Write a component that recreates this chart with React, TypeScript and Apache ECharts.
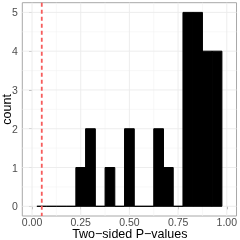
import React, { useEffect, useRef } from "react";
import * as echarts from "echarts";

// Histogram bins (centres) and counts
const binCenters = [0.05, 0.1, 0.15, 0.2, 0.25, 0.3, 0.35, 0.4, 0.45, 0.5, 0.55, 0.6, 0.65, 0.7, 0.75, 0.8, 0.85, 0.9, 0.95];
const counts = [0, 0, 0, 0, 1, 2, 0, 1, 0, 2, 0, 0, 2, 1, 0, 5, 5, 4, 4];
const binWidth = 0.05;
const threshold = 0.05;

const xTicks = [0, 0.25, 0.5, 0.75, 1];
const xMinor = [0.125, 0.375, 0.625, 0.875];
const yTicks = [0, 1, 2, 3, 4, 5];
const yMinor = [0.5, 1.5, 2.5, 3.5, 4.5];

const xTitle = "Two\u2212sided P\u2212values";
const yTitle = "count";

const FONT = "Liberation Sans";

export default function App() {
  const ref = useRef<HTMLDivElement>(null);
  useEffect(() => {
    if (!ref.current) return;
    const chart = echarts.init(ref.current, undefined, { renderer: "svg" });

    const gridData: any[] = [];
    xMinor.forEach((v) => gridData.push([0, v, 0]));
    yMinor.forEach((v) => gridData.push([1, v, 0]));
    xTicks.forEach((v) => gridData.push([0, v, 1]));
    yTicks.forEach((v) => gridData.push([1, v, 1]));

    const left = 22.3, right = 2.7, top = 2.7, bottom = 24;
    const panelCx = left + (240 - left - right) / 2;
    const panelCy = top + (240 - top - bottom) / 2;

    chart.setOption({
      animation: false,
      grid: {
        left, right, top, bottom,
        show: true,
        borderColor: "#a8a8a8",
        borderWidth: 1,
        backgroundColor: "#fff",
      },
      xAxis: {
        type: "value",
        min: -0.05,
        max: 1.05,
        axisLine: { show: false },
        splitLine: { show: false },
        axisTick: { show: true, length: 3, lineStyle: { color: "#a8a8a8", width: 1 }, customValues: xTicks },
        axisLabel: {
          customValues: xTicks,
          formatter: (v: number) => v.toFixed(2),
          color: "#4d4d4d",
          fontSize: 10.5,
          lineHeight: 10,
          fontFamily: FONT,
          margin: 1,
        },
      },
      yAxis: {
        type: "value",
        min: -0.25,
        max: 5.25,
        axisLine: { show: false },
        splitLine: { show: false },
        axisTick: { show: true, length: 3, lineStyle: { color: "#a8a8a8", width: 1 }, customValues: yTicks },
        axisLabel: {
          customValues: yTicks,
          color: "#4d4d4d",
          fontSize: 10.5,
          fontFamily: FONT,
          margin: 4.5,
        },
      },
      graphic: [
        {
          type: "text",
          x: panelCx,
          y: 234,
          style: { text: xTitle, fontSize: 12.5, lineHeight: 11, fontFamily: FONT, fill: "#000", align: "center", verticalAlign: "middle" },
        },
        {
          type: "text",
          x: 7,
          y: panelCy,
          rotation: Math.PI / 2,
          style: { text: yTitle, fontSize: 12.5, fontFamily: FONT, fill: "#000", align: "center", verticalAlign: "middle" },
        },
      ],
      series: [
        {
          type: "custom",
          z: 1,
          silent: true,
          data: gridData,
          renderItem: (params: any, api: any) => {
            const kind = api.value(0);
            const v = api.value(1);
            const major = api.value(2) === 1;
            const cs = params.coordSys;
            const style = { stroke: major ? "#ebebeb" : "#f4f4f4", lineWidth: major ? 0.9 : 0.6 };
            if (kind === 0) {
              const p = api.coord([v, 0]);
              return { type: "line", shape: { x1: p[0], y1: cs.y, x2: p[0], y2: cs.y + cs.height }, style };
            }
            const p = api.coord([0, v]);
            return { type: "line", shape: { x1: cs.x, y1: p[1], x2: cs.x + cs.width, y2: p[1] }, style };
          },
        },
        {
          type: "custom",
          z: 3,
          data: binCenters.map((c, i) => [c, counts[i]]),
          renderItem: (params: any, api: any) => {
            const c = api.value(0);
            const n = api.value(1);
            const p0 = api.coord([c - binWidth / 2, 0]);
            const p1 = api.coord([c + binWidth / 2, n]);
            return {
              type: "rect",
              shape: { x: p0[0], y: p1[1], width: p1[0] - p0[0], height: p0[1] - p1[1] },
              style: { fill: "#000", stroke: "#000", lineWidth: 1 },
            };
          },
        },
        {
          type: "custom",
          z: 4,
          data: [[threshold, 0]],
          renderItem: (params: any, api: any) => {
            const cs = params.coordSys;
            const p = api.coord([api.value(0), 0]);
            return {
              type: "line",
              shape: { x1: p[0], y1: cs.y, x2: p[0], y2: cs.y + cs.height },
              style: { stroke: "#f65c5c", lineWidth: 1.8, lineDash: [4, 3] },
            };
          },
        },
      ],
    });
    return () => chart.dispose();
  }, []);
  return <div ref={ref} style={{ position: "fixed", left: 0, top: 0, width: 240, height: 240 }} />;
}
